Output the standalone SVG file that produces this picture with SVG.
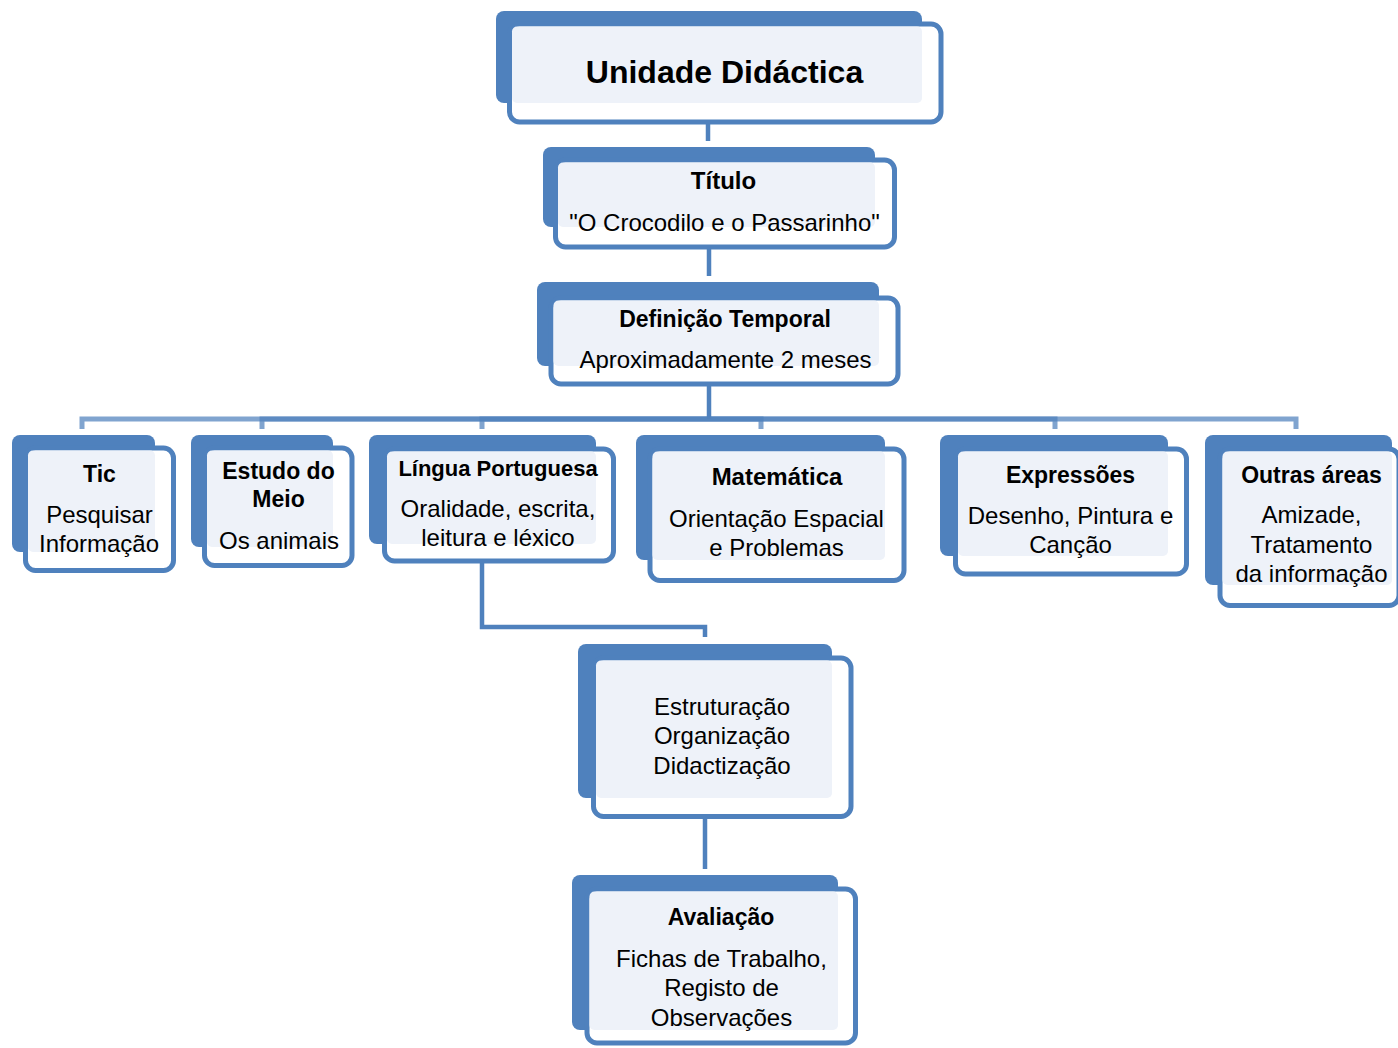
<svg xmlns="http://www.w3.org/2000/svg" width="1398" height="1048" viewBox="0 0 1398 1048">
  <style>
    .back { fill: #4f81bd; }
    .front { fill: #ffffff; stroke: #4f81bd; stroke-width: 5; }
    .face { fill: #eef2f9; }
    .h { font-family: "Liberation Sans", Arial, sans-serif; font-weight: bold; font-size: 23px; fill: #000; text-anchor: middle; }
    .t { font-family: "Liberation Sans", Arial, sans-serif; font-size: 24px; fill: #000; text-anchor: middle; }
    .big { font-size: 32px; }
    .link { fill: none; stroke: #4f81bd; stroke-width: 4.5; }
    .branch { fill: none; stroke: #4f81bd; stroke-width: 5; stroke-opacity: 0.72; }
  </style>

  <!-- connectors -->
  <g id="connectors">
    <path class="link" d="M708 120 V141"/>
    <path class="link" d="M709 245 V276"/>
    <path class="link" d="M709 382 V419"/>
    <!-- branches from Definição Temporal to the six areas -->
    <path class="branch" d="M709 419 H82 V429"/>
    <path class="branch" d="M709 419 H262 V429"/>
    <path class="branch" d="M709 419 H482 V429"/>
    <path class="branch" d="M709 419 H761 V429"/>
    <path class="branch" d="M709 419 H1055 V429"/>
    <path class="branch" d="M709 419 H1296 V429"/>
    <path class="link" d="M482 560 V627 H705 V637"/>
    <path class="link" d="M705 814 V869"/>
  </g>

  <g id="unidade">
    <rect class="back" x="496" y="11" width="426" height="92" rx="8"/>
    <rect class="front" x="509.5" y="24" width="431.5" height="98" rx="10"/>
    <rect class="face" x="512" y="26.5" width="410" height="76.5" rx="5"/>
    <text class="h big" x="724.5" y="83">Unidade Didáctica</text>
  </g>

  <g id="titulo">
    <rect class="back" x="543" y="147" width="332" height="80" rx="8"/>
    <rect class="front" x="555.5" y="160" width="339" height="87" rx="10"/>
    <rect class="face" x="558" y="162.5" width="317" height="64.5" rx="5"/>
    <text class="h" x="723.5" y="189" style="font-size:24px">Título</text>
    <text class="t" x="724.5" y="231">"O Crocodilo e o Passarinho"</text>
  </g>

  <g id="definicao">
    <rect class="back" x="537" y="282" width="342" height="84" rx="8"/>
    <rect class="front" x="551" y="298" width="347" height="86" rx="10"/>
    <rect class="face" x="553.5" y="300.5" width="325.5" height="65.5" rx="5"/>
    <text class="h" x="725" y="327">Definição Temporal</text>
    <text class="t" x="725.5" y="368">Aproximadamente 2 meses</text>
  </g>

  <g id="tic">
    <rect class="back" x="12" y="435" width="143" height="117" rx="8"/>
    <rect class="front" x="25.5" y="448" width="148" height="122.5" rx="10"/>
    <rect class="face" x="28" y="450.5" width="127" height="101.5" rx="5"/>
    <text class="h" x="99.5" y="482">Tic</text>
    <text class="t" x="99.5" y="523">Pesquisar</text>
    <text class="t" x="99" y="552">Informação</text>
  </g>

  <g id="estudo">
    <rect class="back" x="191" y="435" width="142" height="112" rx="8"/>
    <rect class="front" x="204.5" y="448" width="147.5" height="117.5" rx="10"/>
    <rect class="face" x="207" y="450.5" width="126" height="96.5" rx="5"/>
    <text class="h" x="278.5" y="479">Estudo do</text>
    <text class="h" x="278.5" y="507">Meio</text>
    <text class="t" x="279" y="549">Os animais</text>
  </g>

  <g id="lingua">
    <rect class="back" x="369" y="435" width="227" height="109" rx="8"/>
    <rect class="front" x="384.5" y="449" width="229" height="112" rx="10"/>
    <rect class="face" x="387" y="451.5" width="209" height="92.5" rx="5"/>
    <text class="h" x="498" y="476" style="font-size:22px">Língua Portuguesa</text>
    <text class="t" x="498" y="517">Oralidade, escrita,</text>
    <text class="t" x="498" y="546">leitura e léxico</text>
  </g>

  <g id="matematica">
    <rect class="back" x="636" y="435" width="249" height="125" rx="8"/>
    <rect class="front" x="650" y="449" width="254" height="131.5" rx="10"/>
    <rect class="face" x="652.5" y="451.5" width="232.5" height="108.5" rx="5"/>
    <text class="h" x="777" y="485" style="font-size:24px">Matemática</text>
    <text class="t" x="776.5" y="527">Orientação Espacial</text>
    <text class="t" x="776.5" y="556">e Problemas</text>
  </g>

  <g id="expressoes">
    <rect class="back" x="940" y="435" width="228" height="121" rx="8"/>
    <rect class="front" x="955.5" y="449" width="231" height="125" rx="10"/>
    <rect class="face" x="958" y="451.5" width="210" height="104.5" rx="5"/>
    <text class="h" x="1070.5" y="483">Expressões</text>
    <text class="t" x="1070.5" y="524">Desenho, Pintura e</text>
    <text class="t" x="1070.5" y="553">Canção</text>
  </g>

  <g id="outras">
    <rect class="back" x="1205" y="435" width="187" height="150" rx="8"/>
    <rect class="front" x="1220" y="449" width="179" height="156.5" rx="10"/>
    <rect class="face" x="1222.5" y="451.5" width="169.5" height="133.5" rx="5"/>
    <text class="h" x="1311.5" y="483">Outras áreas</text>
    <text class="t" x="1311.5" y="523">Amizade,</text>
    <text class="t" x="1311.5" y="553">Tratamento</text>
    <text class="t" x="1311.5" y="582">da informação</text>
  </g>

  <g id="estruturacao">
    <rect class="back" x="578" y="644" width="254" height="154" rx="8"/>
    <rect class="front" x="593.5" y="658" width="257.5" height="158.5" rx="10"/>
    <rect class="face" x="596" y="660.5" width="236" height="137.5" rx="5"/>
    <text class="t" x="722" y="715">Estruturação</text>
    <text class="t" x="722" y="744">Organização</text>
    <text class="t" x="722" y="774">Didactização</text>
  </g>

  <g id="avaliacao">
    <rect class="back" x="572" y="875" width="266" height="155" rx="8"/>
    <rect class="front" x="587" y="889" width="268.5" height="154" rx="10"/>
    <rect class="face" x="589.5" y="891.5" width="248.5" height="138.5" rx="5"/>
    <text class="h" x="721" y="925">Avaliação</text>
    <text class="t" x="721.5" y="967">Fichas de Trabalho,</text>
    <text class="t" x="721.5" y="996">Registo de</text>
    <text class="t" x="721.5" y="1026">Observações</text>
  </g>
</svg>
